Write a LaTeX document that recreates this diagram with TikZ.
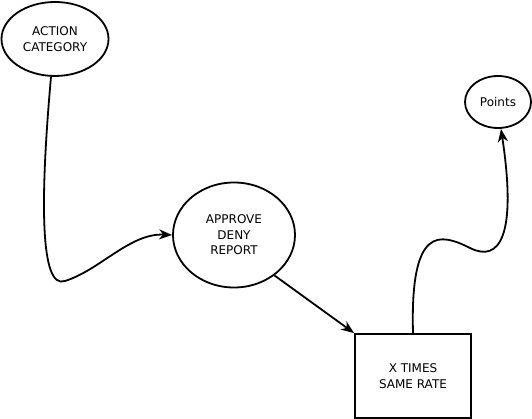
\documentclass[tikz,border=0pt]{standalone}
\usepackage{fontspec}
\setmainfont{DejaVu Sans}
\usetikzlibrary{shapes.geometric,arrows.meta}
\begin{document}
\begin{tikzpicture}[x=1pt,y=-1pt,
  every node/.style={font=\fontsize{12}{15.5}\selectfont, align=center, line width=1.8pt, inner sep=0pt},
  ell/.style={draw, ellipse},
  boxnode/.style={draw, rectangle},
  conn/.style={line width=1.8pt, -{Stealth[length=13pt,width=10pt,inset=4pt]}}]
\useasboundingbox (0,0) rectangle (532,419);
\node[ell, minimum width=107pt, minimum height=74pt] (ac) at (55,39) {ACTION\\CATEGORY};
\node[ell, minimum width=66pt, minimum height=52pt] (pt) at (498,102) {Points};
\node[ell, minimum width=122pt, minimum height=105pt] (ad) at (234,235) {APPROVE\\DENY\\REPORT};
\node[boxnode, minimum width=116pt, minimum height=84pt] (bx) at (413,376) {X TIMES\\SAME RATE};
\draw[conn] ([xshift=-4pt]ac.south) .. controls (40,200) and (40,290) .. (65,281)
  .. controls (100,270) and (130,233) .. (ad.west);
\draw[conn] (ad.-45) -- (bx.north west);
\draw[conn] (bx.north) .. controls (410,225) and (440,233) .. (470,248)
  .. controls (500,263) and (517,235) .. ([xshift=3pt]pt.south);
\end{tikzpicture}
\end{document}
